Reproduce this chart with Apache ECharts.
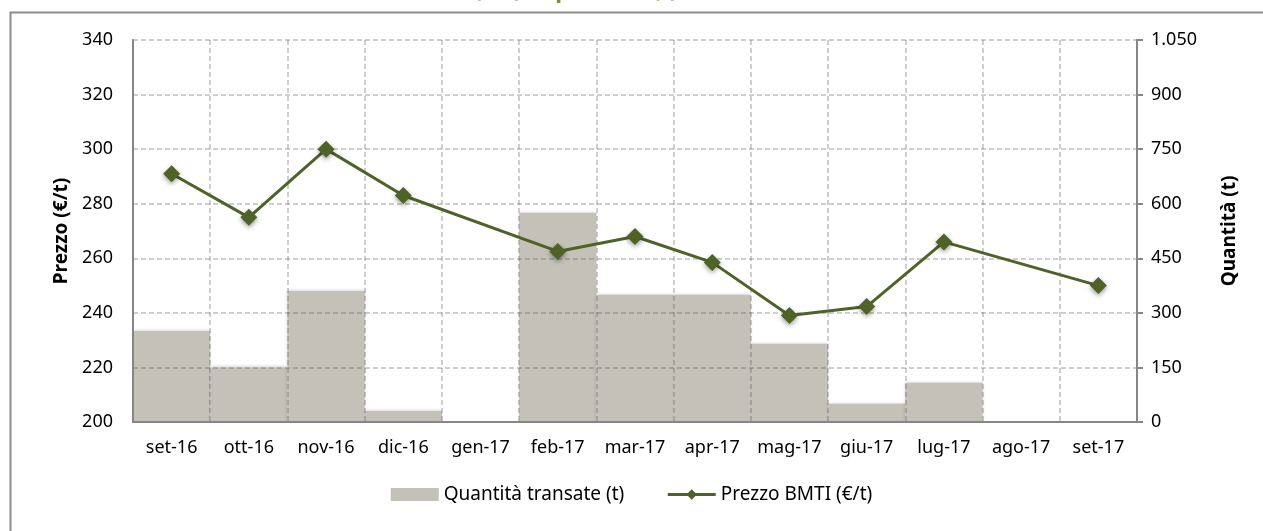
<!DOCTYPE html>
<html>
<head>
<meta charset="utf-8">
<script src="https://cdn.jsdelivr.net/npm/echarts@6/dist/echarts.min.js"></script>
<style>
  html, body { margin: 0; padding: 0; background: #fff; }
  #main { width: 1263px; height: 531px; }
</style>
</head>
<body>
<div id="main"></div>
<script>
// dati
var mesi = ['set-16', 'ott-16', 'nov-16', 'dic-16', 'gen-17', 'feb-17', 'mar-17',
            'apr-17', 'mag-17', 'giu-17', 'lug-17', 'ago-17', 'set-17'];
var quantita = [250, 150, 360, 30, 0, 575, 350, 350, 215, 50, 108, 0, 0];
var prezzo = [291, 275, 300, 283, null, 262.5, 268, 258.5, 239, 242.3, 266, null, 250];
var tickPrezzo = [200, 340, 20];
var tickQuantita = [0, 1050, 150];

var myChart = echarts.init(document.getElementById('main'));

var fontName = '"Noto Sans", "Open Sans", sans-serif';
var grigioAsse = '#868686';
var griglia = 'rgba(90,90,90,0.38)';

function formatIt(v) {
    // separatore delle migliaia con punto
    return String(v).replace(/\B(?=(\d{3})+(?!\d))/g, '.');
}

option = {
    animation: false,
    backgroundColor: '#fff',
    textStyle: { fontFamily: fontName },
    graphic: [
        {
            type: 'rect',
            left: 8, top: 10,
            shape: { width: 1400, height: 700 },
            style: { fill: 'none', stroke: '#8c8c8c', lineWidth: 2 },
            silent: true
        },
        {
            type: 'text',
            x: 678, y: -9.5,
            style: {
                text: 'Prezzi (€/t) e quantità (t)',
                fill: '#77933c',
                font: 'bold 23px ' + fontName,
                align: 'right',
                verticalAlign: 'middle'
            },
            silent: true
        }
    ],
    grid: {
        left: 133, right: 126, top: 40, bottom: 109
    },
    legend: {
        bottom: 22,
        left: 'center',
        itemGap: 42,
        itemWidth: 48,
        itemHeight: 13,
        textStyle: { fontSize: 19, color: '#000', fontFamily: fontName },
        data: [
            { name: 'Quantità transate (t)', icon: 'rect' },
            { name: 'Prezzo BMTI (€/t)', lineStyle: { width: 3 } }
        ]
    },
    xAxis: {
        type: 'category',
        data: mesi,
        z: 5,
        boundaryGap: true,
        axisLine: { lineStyle: { color: grigioAsse, width: 2 } },
        axisTick: { show: false },
        axisLabel: { color: '#000', fontSize: 18, margin: 17, interval: 0 },
        splitLine: { show: true, lineStyle: { color: griglia, type: [5, 3], width: 1.5 } }
    },
    yAxis: [
        {
            type: 'value',
            name: 'Prezzo (€/t)',
            nameLocation: 'middle',
            nameRotate: 90,
            nameGap: 62,
            nameTextStyle: { fontSize: 19, fontWeight: 'bold', color: '#000' },
            min: tickPrezzo[0], max: tickPrezzo[1], interval: tickPrezzo[2],
            z: 5,
            axisLine: { show: true, lineStyle: { color: grigioAsse, width: 2 } },
            axisTick: { show: false },
            axisLabel: { color: '#000', fontSize: 18, margin: 20 },
            splitLine: { show: true, lineStyle: { color: griglia, type: [5, 3], width: 1.5 } }
        },
        {
            type: 'value',
            name: 'Quantità (t)',
            nameLocation: 'middle',
            nameRotate: 90,
            nameGap: 83,
            nameTextStyle: { fontSize: 19, fontWeight: 'bold', color: '#000' },
            min: tickQuantita[0], max: tickQuantita[1], interval: tickQuantita[2],
            position: 'right',
            z: 5,
            axisLine: { show: true, lineStyle: { color: grigioAsse, width: 2 } },
            axisTick: { show: true, length: 6, lineStyle: { color: grigioAsse, width: 2 } },
            axisLabel: { color: '#000', fontSize: 18, margin: 14, formatter: formatIt },
            splitLine: { show: false }
        }
    ],
    series: [
        {
            name: 'Quantità transate (t)',
            type: 'bar',
            yAxisIndex: 1,
            data: quantita,
            barCategoryGap: '0%',
            z: 2,
            itemStyle: {
                color: '#c4c1b8',
                shadowBlur: 3,
                shadowColor: 'rgba(0,0,0,0.15)',
                shadowOffsetY: -1
            }
        },
        {
            name: 'Prezzo BMTI (€/t)',
            type: 'line',
            yAxisIndex: 0,
            data: prezzo,
            connectNulls: true,
            z: 10,
            symbol: 'diamond',
            symbolSize: 17,
            lineStyle: { color: '#4f6228', width: 3 },
            itemStyle: {
                color: '#4f6228',
                shadowBlur: 5,
                shadowOffsetY: 2,
                shadowColor: 'rgba(0,0,0,0.4)'
            }
        }
    ]
};

myChart.setOption(option);
</script>
</body>
</html>
